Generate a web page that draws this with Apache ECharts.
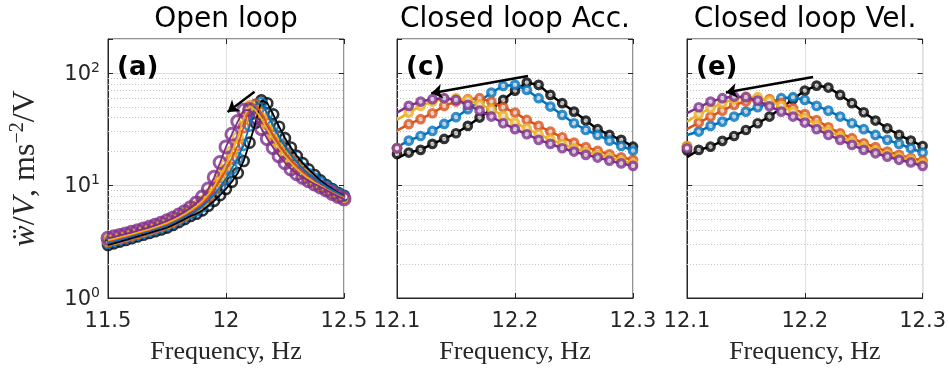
<!DOCTYPE html>
<html>
<head>
<meta charset="utf-8">
<script src="https://cdn.jsdelivr.net/npm/echarts@6/dist/echarts.min.js"></script>
<style>
html, body { margin: 0; padding: 0; background: #fff; }
#chart { width: 949px; height: 377px; }
</style>
</head>
<body>
<div id="chart"></div>
<script>
// open loop: frequency grid and the five measured responses
var freqOpen = [11.5, 11.525, 11.55, 11.575, 11.6, 11.625, 11.65, 11.675, 11.7, 11.725,
    11.75, 11.775, 11.8, 11.825, 11.85, 11.875, 11.9, 11.925, 11.95, 11.975,
    12.0, 12.025, 12.05, 12.075, 12.1, 12.125, 12.15, 12.175, 12.2, 12.225,
    12.25, 12.275, 12.3, 12.325, 12.35, 12.375, 12.4, 12.425, 12.45, 12.475, 12.5];
var openBlack = [2.96, 3.06, 3.17, 3.28, 3.40, 3.52, 3.65, 3.78, 3.92, 4.06,
    4.22, 4.45, 4.72, 5.02, 5.35, 5.6, 6.0, 6.6, 7.3, 8.2,
    9.3, 10.8, 12.9, 16.5, 24, 36, 57, 53.8, 42.8, 33.2,
    26.3, 21.7, 18.3, 15.8, 13.9, 12.4, 11.1, 10.1, 9.3, 8.6, 8.1];
var openBlue = [3.09, 3.19, 3.29, 3.40, 3.52, 3.65, 3.78, 3.92, 4.06, 4.22,
    4.40, 4.64, 4.93, 5.26, 5.63, 5.99, 6.52, 7.29, 8.30, 9.69,
    11.5, 14.1, 17.5, 23, 34, 52, 54, 43.4, 33.9, 27.0,
    22.2, 18.7, 16.1, 14.2, 12.6, 11.5, 10.6, 9.8, 9.1, 8.5, 8.0];
var openOrange = [3.19, 3.30, 3.40, 3.51, 3.63, 3.76, 3.89, 4.03, 4.19, 4.36,
    4.55, 4.81, 5.11, 5.46, 5.88, 6.33, 6.98, 7.92, 9.23, 11.1,
    13.8, 17.5, 22.7, 33, 50, 52, 44.1, 35.1, 28.2, 23.2,
    19.6, 16.9, 14.8, 13.1, 11.8, 10.8, 10.0, 9.3, 8.7, 8.2, 7.8];
var openYellow = [3.26, 3.36, 3.47, 3.58, 3.70, 3.82, 3.96, 4.10, 4.27, 4.44,
    4.65, 4.91, 5.22, 5.59, 6.03, 6.55, 7.27, 8.33, 9.85, 12.1,
    15.3, 20.0, 26.5, 40, 50.5, 46.5, 39.4, 31.5, 25.7, 21.4,
    18.2, 15.9, 14.0, 12.6, 11.5, 10.6, 9.9, 9.2, 8.6, 8.1, 7.7];
var openPurple = [3.40, 3.50, 3.60, 3.71, 3.83, 3.96, 4.10, 4.25, 4.42, 4.62,
    4.85, 5.12, 5.45, 5.85, 6.35, 7.0, 7.9, 9.3, 11.8, 16.0,
    22.0, 28.5, 37.0, 46.5, 47.0, 39.8, 32.0, 26.0, 21.6, 18.3,
    15.9, 14.0, 12.7, 11.8, 11.0, 10.3, 9.7, 9.1, 8.5, 8.0, 7.6];

// closed loop frequency grid
var freqClosed = [12.10, 12.11, 12.12, 12.13, 12.14, 12.15, 12.16, 12.17, 12.18, 12.19,
    12.20, 12.21, 12.22, 12.23, 12.24, 12.25, 12.26, 12.27, 12.28, 12.29, 12.30];

// closed loop, acceleration feedback
var accBlack = [19.0, 19.6, 20.7, 23.4, 25.9, 29.1, 33.8, 40.1, 47.6, 57.5, 69.6,
    82.0, 78.2, 63.7, 53.8, 45.3, 37.7, 31.6, 28.1, 25.4, 22.1];
var accBlue = [21.5, 25.0, 27.5, 30.5, 35.2, 40.4, 47.6, 55.6, 66.8, 76.6, 78.2,
    70.6, 59.6, 50.2, 42.3, 35.7, 31.1, 28.1, 25.0, 22.4, 20.4];
var accOrange = [21.4, 35.0, 38.8, 43.8, 50.9, 55.6, 58.4, 59.6, 55.6, 49.5, 44.4,
    38.2, 33.8, 30.1, 26.8, 24.0, 21.9, 20.3, 18.9, 17.8, 16.9];
var accYellow = [21.4, 44.4, 50.9, 55.6, 58.7, 59.6, 57.5, 52.6, 47.6, 41.5, 36.2,
    32.2, 28.5, 25.7, 23.4, 21.4, 20.0, 18.7, 17.7, 16.6, 15.7];
var accPurple = [21.4, 50.9, 55.6, 58.4, 59.6, 57.5, 52.0, 46.2, 40.9, 35.7, 31.6,
    28.5, 25.4, 23.4, 21.4, 20.0, 18.7, 17.7, 16.6, 15.7, 14.9];
var accFitStart = [17.5, 21.9, 30.7, 38.2, 44.4];

// closed loop, velocity feedback
var velBlack = [20.5, 20.7, 22.1, 24.9, 27.5, 31.1, 35.7, 40.9, 48.5, 58.4, 69.6,
    77.1, 74.1, 63.7, 53.8, 44.7, 37.7, 32.2, 28.1, 25.0, 22.4];
var velBlue = [21.9, 30.1, 33.8, 36.9, 40.9, 45.3, 49.5, 53.8, 59.6, 60.8, 57.5,
    50.9, 46.2, 40.9, 35.7, 31.6, 28.1, 25.4, 23.4, 21.4, 19.6];
var velOrange = [22.4, 36.2, 40.9, 46.2, 52.0, 55.6, 58.4, 58.4, 53.8, 48.5, 43.0,
    38.0, 32.9, 29.1, 26.3, 23.7, 21.9, 20.0, 18.7, 17.5, 16.6];
var velYellow = [22.1, 42.9, 48.5, 53.8, 58.4, 61.6, 60.8, 56.7, 50.9, 45.3, 39.6,
    34.5, 30.5, 27.2, 24.5, 22.1, 20.4, 18.9, 17.8, 16.9, 15.7];
var velPurple = [21.4, 49.5, 55.6, 59.6, 61.6, 60.8, 56.7, 50.5, 45.3, 40.9, 36.2,
    31.6, 28.1, 25.4, 22.9, 20.7, 19.3, 18.0, 16.9, 16.0, 14.9];
var velFitStart = [17.8, 28.1, 31.6, 36.9, 43.8];

// arrows (tail, head) in data units
var arrowOpen = [[12.121, 68], [12.007, 45]];
var arrowAcc = [[12.211, 94], [12.129, 66]];
var arrowVel = [[12.207, 92], [12.133, 67]];

var minorGrid = [2, 3, 4, 5, 6, 7, 8, 9, 20, 30, 40, 50, 60, 70, 80, 90];
var titles = ['Open loop', 'Closed loop Acc.', 'Closed loop Vel.'];
var panelTags = ['(a)', '(c)', '(e)'];

var colors = ['#000000', '#0072BD', '#D95319', '#EDB120', '#7E2F8E'];
var sans = '"DejaVu Sans", "Liberation Sans", sans-serif';
var serif = '"Liberation Serif", "DejaVu Serif", serif';
var ink = '#262626';

var grids = [
    {left: 108, top: 39, width: 236, height: 259},
    {left: 397, top: 39, width: 236, height: 259},
    {left: 687, top: 39, width: 236, height: 259}
];
grids.forEach(function (g) {
    g.show = true;
    g.borderColor = ink;
    g.borderWidth = 1;
});

var xRanges = [[11.5, 12.5, 0.5], [12.1, 12.3, 0.1], [12.1, 12.3, 0.1]];

function zip(xs, ys) {
    return xs.map(function (x, i) { return [x, ys[i]]; });
}

function powLabel(v) {
    var l = Math.log10(v);
    var e = Math.round(l);
    if (Math.abs(l - e) > 1e-6) return '';
    return '{b|10}{s|' + e + '}';
}

var xAxes = [], yAxes = [], series = [], graphics = [];

xRanges.forEach(function (r, gi) {
    xAxes.push({
        type: 'value', gridIndex: gi, min: r[0], max: r[1], interval: r[2],
        axisLine: {show: true, lineStyle: {color: ink}},
        axisTick: {inside: true, length: 5, lineStyle: {color: ink}},
        axisLabel: {
            fontSize: 21, fontFamily: sans, color: ink, margin: 13,
            showMinLabel: true, showMaxLabel: true,
            formatter: function (v) { return gi === 0 ? String(v) : v.toFixed(1); }
        },
        splitLine: {show: true, lineStyle: {color: '#dfdfdf'}},
        name: 'Frequency, Hz', nameLocation: 'middle', nameGap: 41,
        nameTextStyle: {fontFamily: serif, fontSize: 26, color: ink}
    });
    xAxes.push({
        type: 'value', gridIndex: gi, position: 'top', min: r[0], max: r[1], interval: r[2],
        axisLine: {show: false},
        axisTick: {inside: true, length: 5, lineStyle: {color: ink}},
        axisLabel: {show: false}, splitLine: {show: false}
    });
    var yLeft = {
        type: 'log', logBase: 10, gridIndex: gi, min: 1, max: 200,
        axisLine: {show: true, lineStyle: {color: ink}},
        axisTick: {inside: true, length: 5, lineStyle: {color: ink}},
        axisLabel: {
            show: gi === 0, margin: 8, formatter: powLabel,
            rich: {
                b: {fontSize: 21, fontFamily: sans, color: ink, verticalAlign: 'bottom'},
                s: {fontSize: 14, fontFamily: sans, color: ink, verticalAlign: 'bottom', padding: [0, 0, 10, 0]}
            }
        },
        splitLine: {show: true, lineStyle: {color: '#dfdfdf'}}
    };
    if (gi === 0) {
        yLeft.name = '{i|ẅ}{r|/}{i|V}{r|, ms}{s|−2}{r|/V}';
        yLeft.nameLocation = 'middle';
        yLeft.nameRotate = 90;
        yLeft.nameGap = 66;
        yLeft.nameTextStyle = {
            color: ink,
            rich: {
                i: {fontFamily: serif, fontSize: 32, fontStyle: 'italic', color: ink, verticalAlign: 'bottom'},
                r: {fontFamily: serif, fontSize: 32, color: ink, verticalAlign: 'bottom'},
                s: {fontFamily: serif, fontSize: 20, color: ink, verticalAlign: 'bottom', padding: [0, 0, 14, 0]}
            }
        };
    }
    yAxes.push(yLeft);
    yAxes.push({
        type: 'log', logBase: 10, gridIndex: gi, position: 'right', min: 1, max: 200,
        axisLine: {show: false},
        axisTick: {inside: true, length: 5, lineStyle: {color: ink}},
        axisLabel: {show: false}, splitLine: {show: false}
    });

    // dotted minor grid
    series.push({
        type: 'line', xAxisIndex: 2 * gi, yAxisIndex: 2 * gi, data: [], silent: true,
        markLine: {
            silent: true, z: 1, symbol: ['none', 'none'], label: {show: false},
            lineStyle: {color: '#c4c4c4', type: [1, 2], width: 1},
            emphasis: {disabled: true},
            data: minorGrid.map(function (v) { return {yAxis: v}; })
        }
    });
});

// open loop panel: markers first, fit lines on top
var openSets = [openBlack, openBlue, openOrange, openYellow, openPurple];
openSets.forEach(function (ys, c) {
    series.push({
        type: 'scatter', xAxisIndex: 0, yAxisIndex: 0, z: 3,
        data: zip(freqOpen, ys), symbol: 'circle', symbolSize: c === 4 ? 12 : 10,
        itemStyle: {color: 'rgba(255,255,255,0)', borderColor: colors[c], borderWidth: c === 4 ? 3 : 2.6}
    });
});
openSets.forEach(function (ys, c) {
    series.push({
        type: 'line', xAxisIndex: 0, yAxisIndex: 0, z: 4, showSymbol: false,
        data: zip(freqOpen, ys), lineStyle: {color: colors[c], width: 1.8}
    });
});

// closed loop panels: fit lines then measured markers
function closedPanel(gi, sets, starts) {
    sets.forEach(function (ys, c) {
        var fit = [starts[c]].concat(ys.slice(1));
        series.push({
            type: 'line', xAxisIndex: 2 * gi, yAxisIndex: 2 * gi, z: 3 + c * 2,
            showSymbol: false, data: zip(freqClosed, fit),
            lineStyle: {color: colors[c], width: 2.5}
        });
        series.push({
            type: 'scatter', xAxisIndex: 2 * gi, yAxisIndex: 2 * gi, z: 4 + c * 2,
            data: zip(freqClosed, ys), symbol: 'circle', symbolSize: 7.5,
            itemStyle: {color: '#e8e8e8', borderColor: colors[c], borderWidth: 3.2}
        });
    });
}
closedPanel(1, [accBlack, accBlue, accOrange, accYellow, accPurple], accFitStart);
closedPanel(2, [velBlack, velBlue, velOrange, velYellow, velPurple], velFitStart);

// arrows
[arrowOpen, arrowAcc, arrowVel].forEach(function (a, gi) {
    series.push({
        type: 'line', xAxisIndex: 2 * gi, yAxisIndex: 2 * gi, data: [], silent: true,
        markLine: {
            silent: true, z: 30, symbol: ['none', 'arrow'], symbolSize: 11,
            label: {show: false}, emphasis: {disabled: true},
            lineStyle: {color: '#000', type: 'solid', width: 2.5},
            data: [[{coord: a[0]}, {coord: a[1]}]]
        }
    });
});

// titles and panel tags
grids.forEach(function (g, gi) {
    graphics.push({
        type: 'text', x: g.left + g.width / 2, y: 20,
        style: {text: titles[gi], font: '28px ' + sans, fill: '#000',
            textAlign: 'center', textVerticalAlign: 'middle', align: 'center', verticalAlign: 'middle'}
    });
    graphics.push({
        type: 'text', x: g.left + 9, y: 68, z: 50,
        style: {text: panelTags[gi], font: 'bold 26px ' + sans, fill: '#000',
            textAlign: 'left', textVerticalAlign: 'middle', align: 'left', verticalAlign: 'middle'}
    });
});

var chart = echarts.init(document.getElementById('chart'));
chart.setOption({
    animation: false,
    backgroundColor: '#fff',
    grid: grids,
    xAxis: xAxes,
    yAxis: yAxes,
    series: series,
    graphic: graphics
});
</script>
</body>
</html>
